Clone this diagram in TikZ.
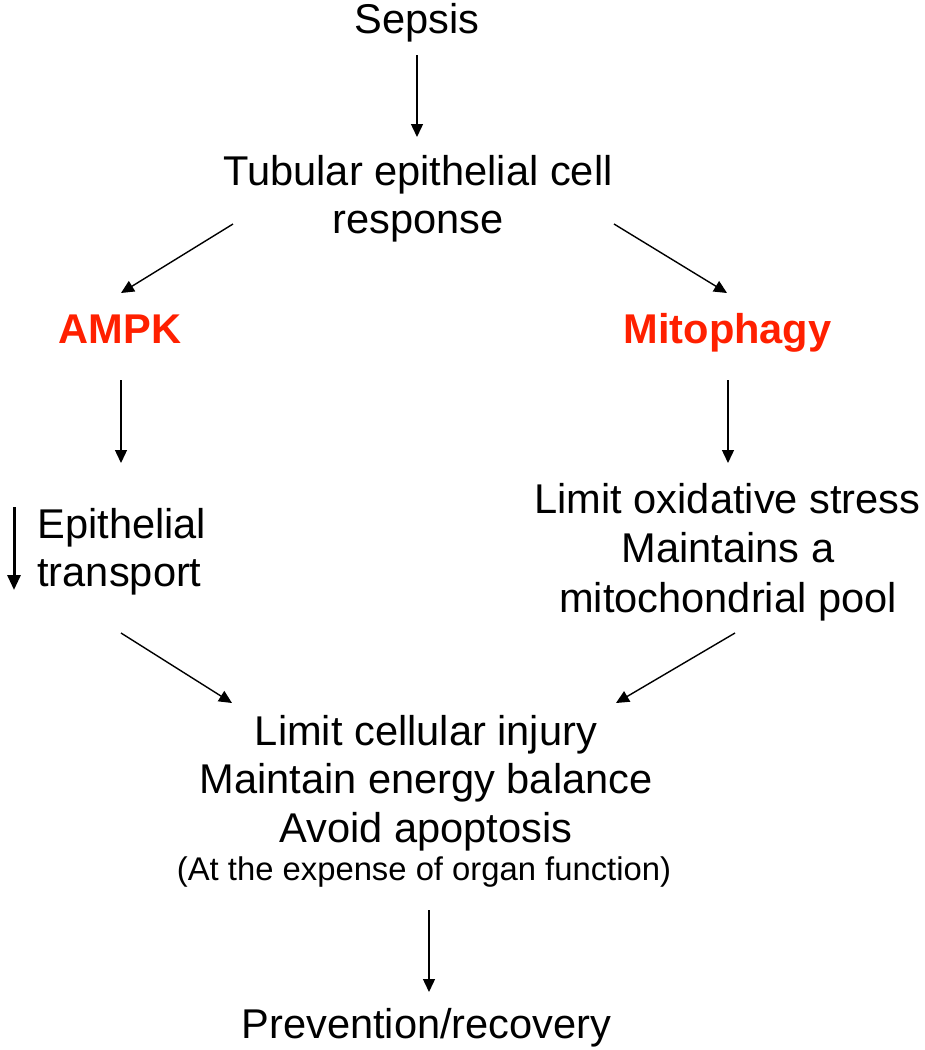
\documentclass[tikz,border=0pt]{standalone}
\usepackage{fontspec}
\setmainfont{Liberation Sans}
\usetikzlibrary{arrows.meta}
\definecolor{hotred}{RGB}{255,32,0}
\begin{document}
\begin{tikzpicture}[x=0.5pt,y=-0.5pt,
  txt/.style={inner sep=0pt, anchor=base, font=\fontsize{20.8}{24}\selectfont},
  small/.style={inner sep=0pt, anchor=base, font=\fontsize{16.4}{20}\selectfont},
  hot/.style={inner sep=0pt, anchor=base, font=\fontsize{20.8}{24}\selectfont\bfseries, text=hotred},
  arr/.style={line width=0.7pt, -{Triangle[length=6.5pt,width=6pt]}},
  thickarr/.style={line width=1.5pt, -{Triangle[length=7.5pt,width=6.5pt]}}]
\useasboundingbox (0,0) rectangle (925,1050);

% text nodes
\node[txt] (sepsis) at (417,33) {Sepsis};
\node[txt] (tub1) at (418,185) {Tubular epithelial cell};
\node[txt] (tub2) at (418,233) {response};
\node[hot] (ampk) at (120,343) {AMPK};
\node[hot] (mito) at (727.5,343) {Mitophagy};
\node[txt, anchor=base west] (epi1) at (37,538) {Epithelial};
\node[txt, anchor=base west] (epi2) at (37,586) {transport};
\node[txt] (ox1) at (727.5,513) {Limit oxidative stress};
\node[txt] (ox2) at (728,562) {Maintains a};
\node[txt] (ox3) at (728,612) {mitochondrial pool};
\node[txt] (c1) at (426,745) {Limit cellular injury};
\node[txt] (c2) at (426,793) {Maintain energy balance};
\node[txt] (c3) at (426,842) {Avoid apoptosis};
\node[small] (c4) at (424,880) {(At the expense of organ function)};
\node[txt] (prev) at (426.5,1038) {Prevention/recovery};

% arrow end points
\coordinate (s1) at (417,55);   \coordinate (e1) at (417,137);
\coordinate (s2) at (233,224);  \coordinate (e2) at (121,293);
\coordinate (s3) at (614,224);  \coordinate (e3) at (727,293);
\coordinate (s4) at (121,380);  \coordinate (e4) at (121,463);
\coordinate (s5) at (728,380);  \coordinate (e5) at (728,463);
\coordinate (s6) at (14,507);   \coordinate (e6) at (14,590);
\coordinate (s7) at (121,633);  \coordinate (e7) at (232,703);
\coordinate (s8) at (735,633);  \coordinate (e8) at (616,703);
\coordinate (s9) at (429,910);  \coordinate (e9) at (429,992);

\draw[arr] (s1) -- (e1);
\draw[arr] (s2) -- (e2);
\draw[arr] (s3) -- (e3);
\draw[arr] (s4) -- (e4);
\draw[arr] (s5) -- (e5);
\draw[thickarr] (s6) -- (e6);
\draw[arr] (s7) -- (e7);
\draw[arr] (s8) -- (e8);
\draw[arr] (s9) -- (e9);
\end{tikzpicture}
\end{document}
